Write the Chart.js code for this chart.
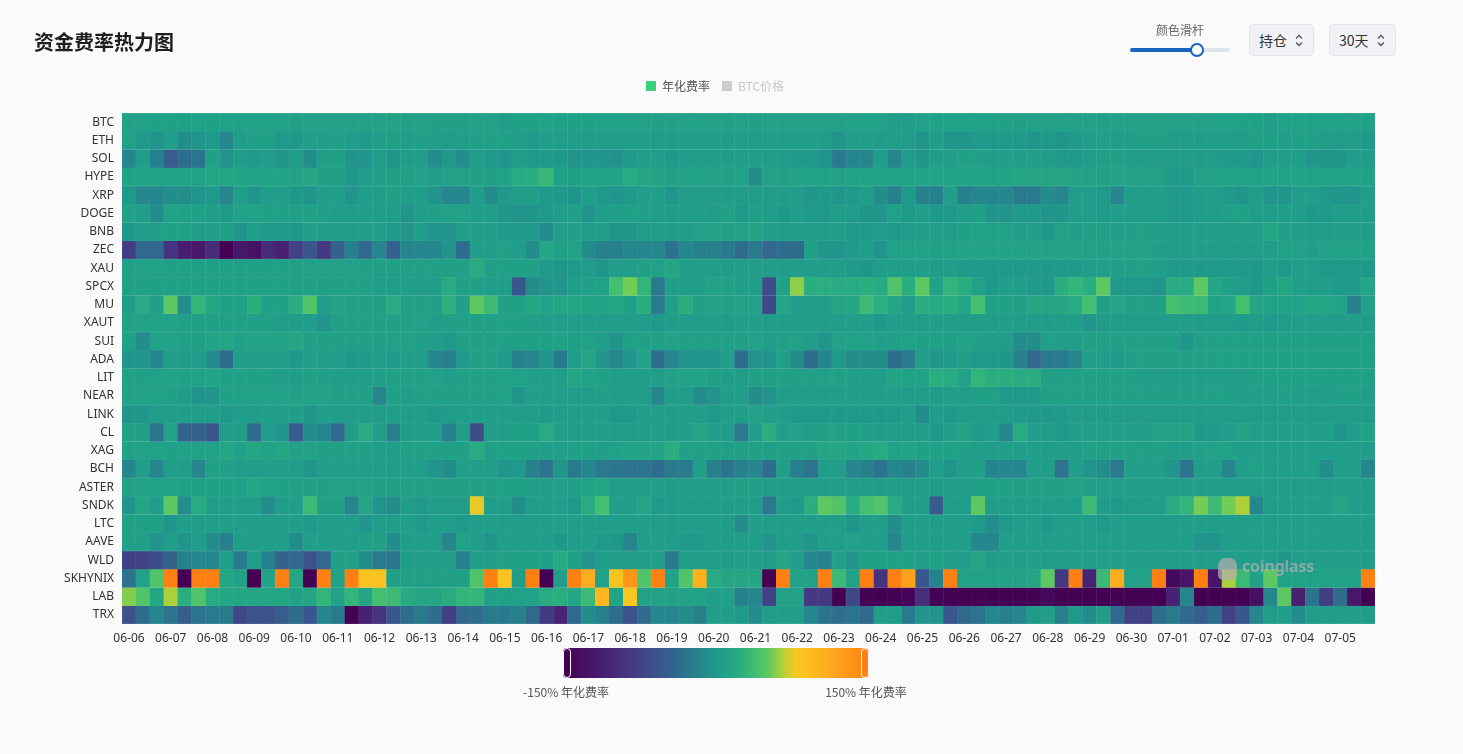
<!DOCTYPE html>
<html>
<head>
<meta charset="utf-8">
<title>资金费率热力图</title>
<script src="https://cdn.jsdelivr.net/npm/chart.js@4.4.1/dist/chart.umd.min.js"></script>
<style>
  body { margin: 0; background: #fafafa; font-family: "Noto Sans", "Noto Sans CJK SC", sans-serif; }
  #wrap { position: relative; width: 1463px; height: 754px; overflow: hidden; }
  #heatmap { position: absolute; left: 0; top: 0; }
  .title { position: absolute; left: 34px; top: 27px; font-size: 20px; font-weight: 700; color: #1d1d1f; font-family: "Noto Sans CJK SC", sans-serif; }
  .slider-label { position: absolute; left: 1150px; top: 21px; width: 60px; text-align: center; font-size: 12px; color: #666; font-family: "Noto Sans CJK SC", sans-serif; }
  .track { position: absolute; left: 1130px; top: 48px; width: 100px; height: 4px; border-radius: 2px; background: #dfe4ea; }
  .track-fill { position: absolute; left: 1130px; top: 48px; width: 67px; height: 4px; border-radius: 2px; background: #1565c0; }
  .knob { position: absolute; left: 1190px; top: 43px; width: 10px; height: 10px; border-radius: 50%; background: #fff; border: 2px solid #1565c0; }
  .select { position: absolute; top: 24px; height: 30px; border: 1px solid #e1e5ea; border-radius: 4px; background: #f0f2f5; font-size: 14px; color: #333; font-family: "Noto Sans CJK SC", sans-serif; line-height: 30px; padding-left: 9px; box-sizing: content-box; }
  .select svg { position: absolute; right: 10px; top: 9px; }
  .bar { position: absolute; left: 563px; top: 648px; width: 306px; height: 30px; border-radius: 4px; }
  .handle { position: absolute; top: 648px; width: 6px; height: 28px; border: 1px solid #fff; border-radius: 4px; }
  .bar-label { position: absolute; top: 683px; font-size: 12px; color: #555; font-family: "Noto Sans CJK SC", sans-serif; white-space: nowrap; transform: translateX(-50%); }
  .mark { position: absolute; left: 1214px; top: 555px; color: rgba(175,175,175,0.72); pointer-events: none; }
  .mark .txt { position: absolute; left: 28px; top: 0px; font: 700 16px "Noto Sans", sans-serif; letter-spacing: -0.2px; }
  .mark .ico { position: absolute; left: 4px; top: 3px; width: 19px; height: 22px; border-radius: 8px 8px 5px 5px; background: rgba(175,175,175,0.72); }
</style>
</head>
<body>
<div id="wrap">
  <canvas id="heatmap" width="1463" height="754"></canvas>
  <div class="title">资金费率热力图</div>
  <div class="slider-label">颜色滑杆</div>
  <div class="track"></div>
  <div class="track-fill"></div>
  <div class="knob"></div>
  <div class="select" style="left:1249px;width:54px;">持仓
    <svg width="8" height="13" viewBox="0 0 8 13"><path d="M1 4.5 L4 1.5 L7 4.5 M1 8.5 L4 11.5 L7 8.5" fill="none" stroke="#555" stroke-width="1.3"/></svg>
  </div>
  <div class="select" style="left:1329px;width:56px;">30天
    <svg width="8" height="13" viewBox="0 0 8 13"><path d="M1 4.5 L4 1.5 L7 4.5 M1 8.5 L4 11.5 L7 8.5" fill="none" stroke="#555" stroke-width="1.3"/></svg>
  </div>
  <div class="bar" id="colorBar"></div>
  <div class="handle" style="left:563px;background:#440154;"></div>
  <div class="handle" style="left:861px;background:#ff8012;"></div>
  <div class="bar-label" style="left:566px;">-150% 年化费率</div>
  <div class="bar-label" style="left:866px;">150% 年化费率</div>
  <div class="mark"><div class="ico"></div><div class="txt">coinglass</div></div>
</div>
<script>
// 30 days, three funding periods per day
const days = ['06-06','06-07','06-08','06-09','06-10','06-11','06-12','06-13','06-14','06-15',
              '06-16','06-17','06-18','06-19','06-20','06-21','06-22','06-23','06-24','06-25',
              '06-26','06-27','06-28','06-29','06-30','07-01','07-02','07-03','07-04','07-05'];
const periods = ['00:00', '08:00', '16:00'];

const symbols = ['BTC','ETH','SOL','HYPE','XRP','DOGE','BNB','ZEC','XAU','SPCX','MU','XAUT','SUI','ADA',
                 'LIT','NEAR','LINK','CL','XAG','BCH','ASTER','SNDK','LTC','AAVE','WLD','SKHYNIX','LAB','TRX'];

// annualized funding rate (%), one value per period
const btc = [10,10,8,8,8,10,8,10,10,10,10,10,10,10,10,10,10,10,12,12,10,10,8,8,8,10,10,5,8,8,
             10,10,8,8,10,10,10,10,8,10,10,10,10,10,10,8,10,10,10,10,10,10,10,10,10,5,5,10,10,10,
             10,10,10,8,8,10,10,10,10,10,10,10,10,10,10,10,10,10,10,10,8,8,5,10,10,10,10,10,10,10];
const eth = [10,0,-5,5,-10,-5,0,-15,5,8,8,0,0,5,5,8,5,0,5,8,5,8,5,3,5,8,8,8,5,0,
             5,5,5,3,5,5,5,5,3,5,5,5,5,5,5,3,5,5,5,5,3,-5,5,5,3,5,3,-5,5,-3,
             -5,0,0,0,0,-3,0,-3,0,5,8,3,5,8,8,3,3,5,5,5,3,8,8,5,8,8,3,3,3,0];
const sol = [-15,5,-20,-50,-35,-30,8,-5,5,0,5,-5,5,-10,8,8,-5,-5,5,-5,5,5,-10,0,-10,5,0,-5,5,0,
             0,0,-5,-5,-5,-8,0,5,5,0,5,5,5,5,5,5,5,3,0,0,-5,-25,-15,-15,5,-15,5,-5,5,5,
             8,8,5,5,5,5,5,0,0,5,8,8,5,5,3,3,3,3,3,0,0,-5,5,5,5,-3,-5,-3,5,5];
const hype = [12,12,12,12,12,10,15,15,12,12,12,12,12,15,8,8,0,5,8,8,8,10,5,10,10,8,8,10,20,25,
              32,8,8,10,10,12,20,15,12,10,10,10,10,10,10,-10,10,8,12,12,12,12,12,12,12,12,12,12,12,12,
              12,12,12,12,15,15,15,15,12,12,10,12,10,10,10,0,0,10,10,10,10,10,12,12,12,12,12,10,12,12];
const xrp = [0,-15,-15,-10,-10,-5,0,-15,5,-5,5,5,0,-5,5,5,-5,5,5,8,5,5,-5,-15,-15,5,-10,0,5,8,
             0,0,-3,5,0,-5,0,5,5,-3,3,3,3,3,3,3,3,3,5,-5,0,-3,0,5,-10,-20,0,-20,-20,5,
             -20,-15,-15,-15,-25,-25,-10,-15,5,5,0,-15,5,5,5,0,0,5,5,0,-5,5,-5,-5,5,5,0,-5,-5,5];
const doge = [10,5,-10,10,10,8,5,0,10,10,8,8,8,8,8,5,5,5,5,5,-5,5,8,10,10,5,5,-5,-5,-5,
              0,5,8,-5,5,5,8,8,5,5,5,5,3,8,0,8,5,0,5,0,0,5,3,-3,-5,10,0,5,0,0,
              5,8,-5,-5,0,0,-5,-5,5,5,0,5,5,5,5,0,0,5,5,8,8,5,5,5,5,0,0,5,5,5];
const bnb = [0,5,8,8,8,5,5,8,-5,5,0,0,0,5,5,5,5,5,8,0,-5,5,-5,-5,5,5,5,0,0,0,
             -10,5,8,5,5,-5,-5,3,3,3,3,10,10,8,10,12,5,5,5,5,5,5,0,0,5,0,5,3,5,3,
             8,10,10,10,5,5,0,10,5,8,8,5,8,8,5,5,5,5,5,3,5,5,15,8,5,3,3,5,5,5];
const zec = [-80,-40,-40,-90,-115,-120,-100,-150,-120,-130,-100,-110,-75,-55,-85,-45,-20,-40,-15,-45,-15,-15,-15,-5,-35,5,5,8,5,-10,
             15,8,12,-10,-20,-20,-15,-15,-15,-30,-15,-20,-20,-25,-35,-25,-40,-35,-35,8,-5,-5,0,5,-5,10,10,10,8,10,
             12,12,12,12,12,12,12,12,12,10,10,10,10,10,5,5,5,5,5,3,5,5,5,10,10,5,10,10,10,10];
const xau = [8,10,10,8,8,8,8,8,8,8,8,8,10,10,10,10,10,8,8,8,8,8,8,8,8,20,8,8,8,8,
             0,-3,0,3,-3,5,5,8,10,15,5,5,5,5,5,5,5,5,5,5,5,5,0,-3,5,5,5,5,5,5,
             0,0,0,0,0,0,0,0,0,5,5,5,8,8,5,0,0,0,0,0,0,0,5,0,5,5,0,0,0,0];
const spcx = [8,8,8,8,8,8,8,8,8,8,8,8,8,8,8,8,8,8,5,5,5,3,5,20,8,8,5,5,-55,-10,
              -5,-5,5,8,10,40,55,30,-25,5,5,5,10,10,5,5,-65,8,60,25,25,20,20,25,20,45,25,50,10,30,
              25,10,0,5,5,0,0,25,30,25,50,0,0,0,-5,20,20,50,15,8,5,0,8,15,8,5,5,0,0,15];
const mu = [5,20,5,50,-10,30,15,8,8,25,8,8,25,45,5,12,8,8,8,20,8,8,8,25,8,50,35,8,8,15,
            10,15,15,12,12,15,8,25,-25,8,25,8,10,10,10,10,-70,15,5,5,5,15,15,35,25,15,5,25,20,25,
            15,40,8,8,8,15,15,15,20,40,8,15,8,8,8,40,35,35,10,15,40,15,10,10,10,15,15,10,-20,10];
const xaut = [10,10,10,10,8,8,8,8,8,8,8,5,5,5,-5,8,8,8,8,8,10,10,5,8,8,8,8,8,8,8,
              5,5,5,5,5,5,5,3,0,5,5,5,5,3,5,5,3,5,5,5,5,5,5,5,0,5,5,3,5,5,
              3,3,3,5,5,3,3,3,3,-3,3,3,3,3,3,3,3,3,3,3,0,3,0,3,5,5,5,3,5,3];
const sui = [8,-10,10,10,8,8,12,15,10,12,12,12,15,8,8,8,8,8,8,10,10,8,5,0,8,8,8,8,8,8,
             8,10,8,10,5,-5,8,8,8,10,8,8,8,8,8,10,5,8,10,5,-5,10,10,10,5,8,10,8,8,8,
             10,8,5,3,-10,-10,8,5,5,8,8,8,8,8,8,8,-3,8,8,8,8,8,8,8,8,8,8,8,8,8];
const ada = [-5,-5,-15,5,5,5,-10,-35,5,5,8,5,0,5,5,5,0,0,5,0,5,5,-15,-20,0,8,8,0,-20,-15,
             -5,-25,5,15,-5,-15,-5,12,-35,-15,-5,-5,-5,5,-35,-5,-5,8,-10,-35,-15,0,-10,-10,-10,-35,-25,5,-5,0,
             8,0,0,-3,-20,-40,-25,-25,-15,8,5,0,8,8,8,8,8,8,8,8,8,8,8,8,8,8,8,8,8,8];
const lit = [10,8,10,10,10,10,12,8,8,8,8,5,5,8,8,5,5,5,8,8,8,8,10,5,8,8,8,10,10,8,
             5,5,15,10,8,5,5,5,5,10,10,10,8,5,5,8,8,8,8,8,8,8,8,5,5,12,10,10,25,20,
             10,30,25,25,20,25,8,8,8,8,8,8,8,5,5,5,5,5,5,5,3,8,8,8,8,8,8,8,8,8];
const near = [10,10,10,8,5,-5,-5,8,10,10,10,10,10,10,10,8,8,8,-15,8,5,8,8,8,8,8,8,10,-3,8,
              5,5,5,5,8,5,5,5,-15,5,5,-10,-5,5,5,-10,-5,5,5,5,5,5,5,5,5,5,5,5,5,5,
              5,8,8,0,0,0,8,8,8,8,8,8,8,8,8,8,8,8,8,8,5,5,5,8,5,5,5,8,8,5];
const link = [-5,-3,3,5,5,5,3,0,5,3,5,5,5,-3,5,5,5,5,3,5,5,5,0,3,5,5,5,5,5,5,
              0,5,5,5,8,0,0,5,5,5,5,5,0,5,5,10,5,5,0,0,0,0,0,0,0,0,5,-10,5,0,
              3,3,3,3,0,0,0,0,3,3,3,3,3,3,3,3,3,3,3,3,3,3,3,3,3,3,3,3,3,3];
const cl = [8,8,-30,10,-45,-45,-55,5,3,-35,5,-5,-50,-10,-15,-40,5,20,5,-20,5,5,5,-20,5,-65,5,5,8,8,
            20,5,5,5,5,3,3,5,5,5,5,15,5,5,-25,5,25,5,10,5,8,8,8,8,5,5,5,5,0,5,
            12,0,5,-15,20,5,5,0,5,5,5,8,5,5,12,12,12,0,0,5,12,5,5,5,5,5,5,-3,5,12];
const xag = [10,10,10,8,10,10,10,15,10,15,10,15,10,10,8,8,8,8,5,5,8,8,8,8,8,20,8,8,8,8,
             5,5,8,8,5,8,12,12,12,25,8,8,8,8,8,8,8,8,8,8,15,15,12,15,20,10,12,8,8,8,
             8,5,5,5,5,5,5,5,5,8,8,8,8,8,8,5,5,8,10,10,5,5,5,5,5,5,5,5,5,5];
const bch = [-15,5,-15,5,5,-15,8,8,5,5,5,5,5,-5,5,5,5,5,5,5,5,5,-5,-10,5,5,5,-5,0,-20,
             -30,-5,-25,-15,-25,-30,-30,-30,-35,-25,-25,5,-20,-30,-20,-15,-35,5,-20,-30,5,5,-15,-20,-30,-15,-20,-10,5,-5,
             5,8,-15,-15,-15,5,5,-30,5,-5,-10,-25,5,5,5,-5,-30,5,5,-15,5,8,5,5,5,8,-10,5,5,-15];
const aster = [10,10,10,10,10,8,8,8,8,15,10,8,8,8,8,10,10,10,8,8,8,8,8,8,8,8,8,8,8,8,
               5,5,8,10,15,5,5,5,5,5,5,5,5,5,8,8,5,5,5,5,5,5,5,5,3,8,5,5,5,5,
               5,8,8,8,8,8,8,8,10,8,5,5,5,5,5,5,5,5,5,5,5,5,5,5,3,3,3,5,5,5];
const sndk = [-5,15,5,50,-10,20,5,5,5,5,-10,5,5,35,8,8,-15,15,-5,-10,5,0,3,3,3,75,5,5,-10,5,
              5,5,0,20,40,5,5,15,0,5,5,5,5,5,5,5,-25,5,0,25,50,45,20,40,45,20,5,5,-50,5,
              5,50,5,5,5,5,5,5,5,35,5,0,3,3,5,20,30,55,35,55,65,-15,5,5,5,5,5,15,5,5];
const ltc = [8,8,8,-5,5,5,5,5,5,5,5,5,5,0,5,5,5,-5,5,5,8,0,5,5,0,5,5,5,5,5,
             5,5,5,5,5,5,5,5,3,3,5,5,5,5,-10,5,5,5,5,5,5,5,-5,5,5,-10,5,5,5,5,
             5,0,-10,0,5,5,0,5,5,5,0,5,5,5,5,5,5,5,5,5,5,5,5,5,5,5,5,5,5,5];
const aave = [8,8,-5,5,-5,5,-10,-20,5,5,5,5,-10,5,5,5,5,8,8,-10,5,5,5,-15,10,5,-5,5,5,5,
              5,0,5,5,0,0,-15,5,5,5,0,0,5,5,5,5,-5,5,5,-5,5,5,10,5,5,-15,5,5,5,5,
              5,-15,-15,5,5,5,5,5,5,5,5,5,5,5,5,5,5,-5,-5,5,5,5,5,5,5,5,5,5,5,5];
const wld = [-75,-75,-65,-45,-20,-15,-15,5,-25,5,-20,-45,-40,-60,-40,8,8,-10,-25,-30,5,5,5,5,-20,5,5,8,8,8,
             8,20,8,-5,5,5,5,5,5,-25,5,5,5,5,5,5,5,15,5,-15,-20,8,-5,8,8,8,8,5,8,5,
             5,15,5,5,5,5,5,5,5,5,5,5,5,5,5,5,5,5,5,5,5,5,5,-5,5,5,5,5,5,5];
const skhynix = [-30,10,45,150,-150,150,150,15,10,-150,12,150,15,-150,150,10,150,85,85,8,8,8,8,8,8,45,150,85,5,150,
                 -150,5,150,110,10,85,130,45,150,10,45,105,20,15,15,15,-150,150,10,10,150,35,10,150,-90,150,120,-55,-20,150,
                 10,10,10,10,10,15,50,-85,150,-105,35,110,10,10,150,-140,-125,150,-125,65,35,10,50,10,10,10,10,10,10,150];
const lab = [58,45,15,65,25,45,20,15,15,15,15,15,10,15,30,10,30,15,40,35,20,15,15,20,30,30,8,8,10,10,
             20,25,15,35,100,12,80,10,10,12,12,12,5,8,-20,-15,-75,10,10,-85,-85,-150,-70,-150,-150,-150,-145,-95,-150,-150,
             -150,-150,-150,-150,-150,-150,-140,-150,-150,-150,-150,-150,-150,-150,-150,-110,-15,-150,-150,-150,-150,-130,-15,50,-110,-30,-80,-35,-120,-150];
const trx = [-60,-35,-15,-30,-50,-30,-25,-25,-70,-60,-60,-50,-35,-55,-15,-25,-150,-110,-90,-55,-35,-25,-35,-80,-40,-35,-25,-25,-20,-40,
             -85,-105,-40,-10,-20,-35,-60,-35,-15,-15,-10,-20,5,5,0,-10,5,5,5,-15,-30,-35,-30,-40,5,5,-25,-5,-5,-55,
             -40,-30,-15,-20,-15,0,5,-20,0,-10,5,-40,-75,-75,-35,-25,-40,-50,-35,-75,-55,-15,5,5,-10,5,5,5,5,5];

const rows = [btc, eth, sol, hype, xrp, doge, bnb, zec, xau, spcx, mu, xaut, sui, ada,
              lit, near, link, cl, xag, bch, aster, sndk, ltc, aave, wld, skhynix, lab, trx];

// colour scale, -150% .. 150%
const colorStops = [
    [-150, '#440154'], [-115, '#481c6e'], [-85, '#453882'], [-60, '#3b528b'],
    [-35, '#2e6d8e'], [-15, '#25878d'], [0, '#1f9a8a'], [10, '#21a187'],
    [25, '#2bae7f'], [40, '#44bf70'], [52, '#62ca5f'], [64, '#a6d13b'],
    [78, '#f7c923'], [88, '#fdc01e'], [112, '#feaa1e'], [150, '#ff8012']
];

function hexToRgb(h) {
    return [parseInt(h.slice(1, 3), 16), parseInt(h.slice(3, 5), 16), parseInt(h.slice(5, 7), 16)];
}

function rateRgb(v) {
    if (v <= colorStops[0][0]) return hexToRgb(colorStops[0][1]);
    for (let i = 1; i < colorStops.length; i++) {
        if (v <= colorStops[i][0]) {
            const [v0, c0] = colorStops[i - 1];
            const [v1, c1] = colorStops[i];
            const t = (v - v0) / (v1 - v0);
            const a = hexToRgb(c0), b = hexToRgb(c1);
            return a.map((x, k) => Math.round(x + (b[k] - x) * t));
        }
    }
    return hexToRgb(colorStops[colorStops.length - 1][1]);
}

function rateColor(v) {
    return 'rgb(' + rateRgb(v).join(',') + ')';
}

// thin lighter edge between cells
function edgeColor(v) {
    return 'rgb(' + rateRgb(v).map(x => Math.round(x + (255 - x) * 0.07)).join(',') + ')';
}

// colour bar under the chart
document.getElementById('colorBar').style.background =
    'linear-gradient(to right, ' +
    colorStops.map(s => s[1] + ' ' + ((s[0] + 150) / 300 * 100).toFixed(1) + '%').join(', ') + ')';

const slots = [];
days.forEach(d => periods.forEach(p => slots.push(d + ' ' + p)));

Chart.defaults.font.family = '"Noto Sans", "Noto Sans CJK SC", sans-serif';

// leave a gap between the legend and the plot
const legendGap = {
    id: 'legendGap',
    beforeInit(chart) {
        const fit = chart.legend.fit;
        chart.legend.fit = function () {
            fit.bind(chart.legend)();
            this.height += 11;
        };
    }
};

const heatCanvas = document.getElementById('heatmap').getContext('2d');

window.heatChart = new Chart(heatCanvas, {
    type: 'bar',
    data: {
        labels: slots,
        datasets: symbols.map((name, i) => ({
            label: name,
            data: rows[i].map(() => 1),
            backgroundColor: rows[i].map(v => rateColor(v)),
            borderColor: rows[i].map(v => edgeColor(v)),
            borderWidth: 0.5,
            borderSkipped: false,
            barPercentage: 1,
            categoryPercentage: 1
        }))
    },
    options: {
        responsive: false,
        animation: false,
        layout: {
            padding: { left: 55, right: 88, top: 68, bottom: 102 }
        },
        plugins: {
            tooltip: { enabled: false },
            legend: {
                position: 'top',
                labels: {
                    boxWidth: 10,
                    boxHeight: 10,
                    padding: 12,
                    font: { size: 12, family: '"Noto Sans CJK SC", sans-serif' },
                    generateLabels: () => [
                        { text: '年化费率', fillStyle: '#3ccf7c', strokeStyle: '#3ccf7c', lineWidth: 0, fontColor: '#555', hidden: false },
                        { text: 'BTC价格', fillStyle: '#cccccc', strokeStyle: '#cccccc', lineWidth: 0, fontColor: '#c8c8c8', hidden: false }
                    ]
                },
                onClick: () => {}
            }
        },
        scales: {
            x: {
                stacked: true,
                grid: { display: false, drawTicks: false },
                border: { display: false },
                ticks: {
                    autoSkip: false,
                    maxRotation: 0,
                    padding: 7,
                    color: '#333',
                    font: { size: 12 },
                    callback: (value, index) => index % 3 === 0 ? days[index / 3] : ''
                },
                afterFit: (scale) => { scale.height = 28; }
            },
            y: {
                stacked: true,
                min: 0,
                max: 28,
                reverse: true,
                grid: { display: false, drawTicks: false },
                border: { display: false },
                ticks: {
                    padding: 8,
                    color: '#333',
                    font: { size: 12 },
                    callback: (value) => symbols[Math.floor(value)]
                },
                afterBuildTicks: (scale) => {
                    scale.ticks = symbols.map((s, i) => ({ value: i + 0.5 }));
                },
                afterFit: (scale) => { scale.width = 67; }
            }
        }
    },
    plugins: [legendGap]
});
</script>
</body>
</html>
